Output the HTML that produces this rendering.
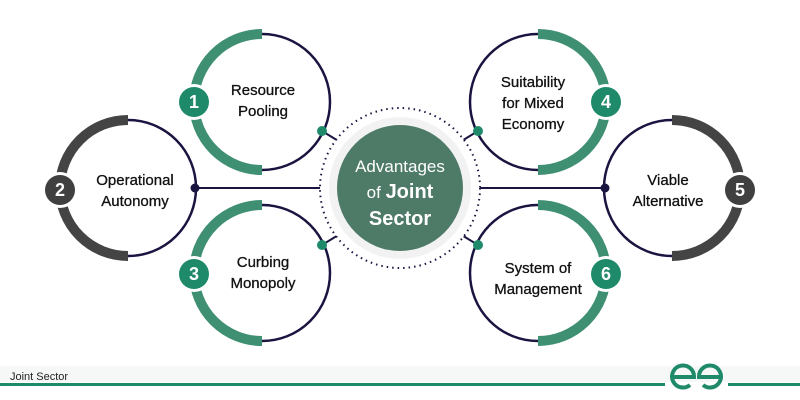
<!DOCTYPE html>
<html><head><style>body{margin:0;background:#fff}svg{display:block}</style></head><body>
<svg width="800" height="400" viewBox="0 0 800 400" xmlns="http://www.w3.org/2000/svg" font-family="Liberation Sans, sans-serif">
<rect width="800" height="400" fill="#fff"/>
<g stroke="#1a1440" stroke-width="2" fill="none">
<line x1="195" y1="188" x2="322" y2="188"/>
<line x1="478" y1="188" x2="605" y2="188"/>
<line x1="322" y1="131" x2="340" y2="142"/>
<line x1="478" y1="131" x2="460" y2="142"/>
<line x1="322" y1="245" x2="340" y2="234"/>
<line x1="478" y1="245" x2="460" y2="234"/>
</g>
<g fill="none">
<path d="M262 34 A68 68 0 0 1 262 170" stroke="#1a1440" stroke-width="2.5"/>
<path d="M262 34 A68 68 0 0 0 262 170" stroke="#3f8f73" stroke-width="10"/>
<path d="M128 120 A68 68 0 0 1 128 256" stroke="#1a1440" stroke-width="2.5"/>
<path d="M128 120 A68 68 0 0 0 128 256" stroke="#444" stroke-width="10"/>
<path d="M262 205 A68 68 0 0 1 262 341" stroke="#1a1440" stroke-width="2.5"/>
<path d="M262 205 A68 68 0 0 0 262 341" stroke="#3f8f73" stroke-width="10"/>
<path d="M538 34 A68 68 0 0 0 538 170" stroke="#1a1440" stroke-width="2.5"/>
<path d="M538 34 A68 68 0 0 1 538 170" stroke="#3f8f73" stroke-width="10"/>
<path d="M672 120 A68 68 0 0 0 672 256" stroke="#1a1440" stroke-width="2.5"/>
<path d="M672 120 A68 68 0 0 1 672 256" stroke="#444" stroke-width="10"/>
<path d="M538 205 A68 68 0 0 0 538 341" stroke="#1a1440" stroke-width="2.5"/>
<path d="M538 205 A68 68 0 0 1 538 341" stroke="#3f8f73" stroke-width="10"/>
</g>
<circle cx="400" cy="188" r="80" fill="#fff" stroke="#1a1440" stroke-width="2" stroke-dasharray="1.5 4"/>
<circle cx="400" cy="188" r="71" fill="#f2f2f2"/>
<circle cx="400" cy="188" r="63" fill="#4e7a68"/>
<g fill="#fff" text-anchor="middle" font-size="17">
<text x="400" y="172">Advantages</text>
<text x="400" y="198">of <tspan font-weight="bold" font-size="20">Joint</tspan></text>
<text x="400" y="225" font-weight="bold" font-size="20">Sector</text>
</g>
<g fill="#1f8a6a">
<circle cx="322" cy="131" r="5"/><circle cx="478" cy="131" r="5"/>
<circle cx="322" cy="245" r="5"/><circle cx="478" cy="245" r="5"/>
</g>
<g fill="#1a1440"><circle cx="195" cy="188" r="4.5"/><circle cx="605" cy="188" r="4.5"/></g>
<g font-weight="bold" font-size="18" text-anchor="middle" fill="#fff">
<circle cx="194" cy="102" r="18" fill="#fff"/><circle cx="194" cy="102" r="15" fill="#1f8a6a"/><text x="194" y="108">1</text>
<circle cx="60" cy="190" r="18" fill="#fff"/><circle cx="60" cy="190" r="15" fill="#404040"/><text x="60" y="196">2</text>
<circle cx="194" cy="274" r="18" fill="#fff"/><circle cx="194" cy="274" r="15" fill="#1f8a6a"/><text x="194" y="280">3</text>
<circle cx="606" cy="102" r="18" fill="#fff"/><circle cx="606" cy="102" r="15" fill="#1f8a6a"/><text x="606" y="108">4</text>
<circle cx="740" cy="190" r="18" fill="#fff"/><circle cx="740" cy="190" r="15" fill="#404040"/><text x="740" y="196">5</text>
<circle cx="606" cy="274" r="18" fill="#fff"/><circle cx="606" cy="274" r="15" fill="#1f8a6a"/><text x="606" y="280">6</text>
</g>
<g fill="#111" font-size="15" text-anchor="middle" stroke="#111" stroke-width="0.3">
<text x="263" y="95">Resource</text><text x="263" y="116">Pooling</text>
<text x="135" y="185">Operational</text><text x="135" y="206">Autonomy</text>
<text x="263" y="267">Curbing</text><text x="263" y="288">Monopoly</text>
<text x="533" y="87">Suitability</text><text x="533" y="108">for Mixed</text><text x="533" y="129">Economy</text>
<text x="668" y="185">Viable</text><text x="668" y="206">Alternative</text>
<text x="538" y="273">System of</text><text x="538" y="294">Management</text>
</g>
<rect x="0" y="366" width="800" height="16" fill="#f6f8f7"/>
<text x="10" y="380" font-size="11" fill="#222">Joint Sector</text>
<rect x="0" y="383" width="665" height="3" fill="#1f8a6a"/>
<rect x="728" y="383" width="72" height="3" fill="#1f8a6a"/>
<g fill="none" stroke="#1f8a6a" stroke-width="4">
<path d="M672 377 H694 A11 11 0 1 0 690 385"/>
<path d="M721 377 H699 A11 11 0 1 1 703 385"/>
</g>
</svg>
</body></html>
